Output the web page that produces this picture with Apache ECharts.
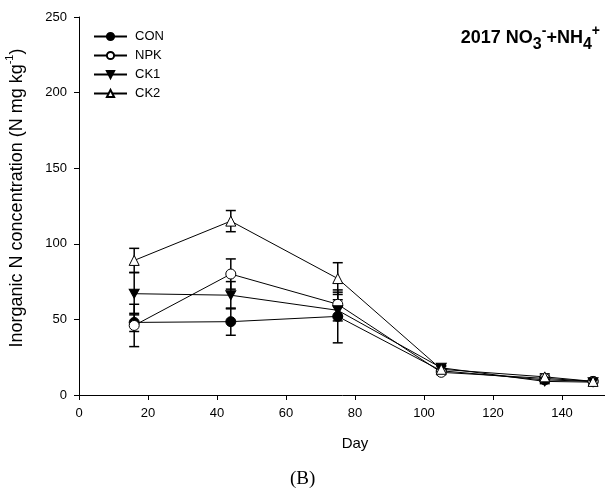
<!DOCTYPE html>
<html>
<head>
<meta charset="utf-8">
<script src="https://cdn.jsdelivr.net/npm/echarts@6/dist/echarts.min.js"></script>
<style>html,body{margin:0;padding:0;background:#fff;}#c{width:605px;height:493px;}</style>
</head>
<body>
<div id="c"></div>
<script>
var days = [16, 44, 75, 105, 135, 149];
var seriesNames = ['CON', 'NPK', 'CK1', 'CK2'];
var con = [48, 48.5, 52, 16, 10, 9];
var conErr = [6, 9, 17.5, 1.5, 1.5, 1];
var npk = [46, 80, 60, 15, 11, 9];
var npkErr = [14, 10, 8, 1.5, 2, 1];
var ck1 = [67, 66, 56, 18, 9, 8.5];
var ck1Err = [14, 9, 7, 1.5, 1.5, 1];
var ck2 = [89, 115, 77, 17, 12, 9];
var ck2Err = [8, 7, 10.5, 2, 2, 1];
var xTicks = [0, 20, 40, 60, 80, 100, 120, 140];
var yTicks = [0, 50, 100, 150, 200, 250];

var values = [con, npk, ck1, ck2];
var errs = [conErr, npkErr, ck1Err, ck2Err];
var symbols = ['circle', 'circle', 'path://M0,0 L10,0 L5,9 Z', 'triangle'];
var fills = ['#000', '#fff', '#000', '#fff'];

var chart = echarts.init(document.getElementById('c'));
var FONT = 'Liberation Sans, Arial, sans-serif';

var series = [];
values.forEach(function (vals, si) {
  var data = days.map(function (d, i) { return [d, vals[i] - errs[si][i], vals[i] + errs[si][i]]; });
  series.push({
    type: 'custom', name: seriesNames[si] + ' err', z: 1,
    renderItem: function (params, api) {
      var x = api.value(0);
      var lo = api.coord([x, api.value(1)]);
      var hi = api.coord([x, api.value(2)]);
      var hw = 5;
      var st = { stroke: '#000', lineWidth: 1.5 };
      return { type: 'group', children: [
        { type: 'line', shape: { x1: lo[0], y1: lo[1], x2: hi[0], y2: hi[1] }, style: st },
        { type: 'line', shape: { x1: lo[0] - hw, y1: lo[1], x2: lo[0] + hw, y2: lo[1] }, style: st },
        { type: 'line', shape: { x1: hi[0] - hw, y1: hi[1], x2: hi[0] + hw, y2: hi[1] }, style: st }
      ]};
    },
    encode: { x: 0, y: [1, 2] },
    data: data, silent: true
  });
});
values.forEach(function (vals, si) {
  series.push({
    type: 'line', name: seriesNames[si], z: 3,
    data: days.map(function (d, i) { return [d, vals[i]]; }),
    symbol: symbols[si], symbolSize: si === 2 ? [10, 9] : 10,
    showAllSymbol: true,
    lineStyle: { color: '#000', width: 1 },
    itemStyle: { color: fills[si], borderColor: '#000', borderWidth: 1 },
    animation: false
  });
});

var option = {
  animation: false,
  backgroundColor: '#fff',
  grid: { left: 79, top: 17, width: 552, height: 378, containLabel: false, outerBoundsMode: 'none' },
  legend: {
    data: seriesNames, orient: 'vertical', left: 88, top: 25,
    itemWidth: 33, itemHeight: 9, itemGap: 6,
    textStyle: { fontFamily: FONT, fontSize: 13, color: '#000', padding: [0, 0, 0, 3] }
  },
  xAxis: {
    type: 'value', min: 0, max: 160, interval: 20,
    name: 'Day', nameLocation: 'middle', nameGap: 41,
    nameTextStyle: { fontFamily: FONT, fontSize: 15, color: '#000' },
    axisLine: { lineStyle: { color: '#000', width: 1 } },
    axisTick: { inside: false, length: 5, lineStyle: { color: '#000' } },
    axisLabel: { fontFamily: FONT, fontSize: 13, color: '#000', margin: 12,
      formatter: function (v) { return xTicks.indexOf(v) >= 0 ? String(v) : ''; } },
    splitLine: { show: false }
  },
  yAxis: {
    type: 'value', min: 0, max: 250, interval: 50,
    name: 'Inorganic N concentration (N mg kg{sup|-1})', nameLocation: 'middle', nameGap: 49, nameRotate: 90,
    nameTextStyle: { fontFamily: FONT, fontSize: 18, color: '#000', padding: [0, 0, 0, 16],
      rich: { sup: { fontFamily: FONT, fontSize: 11, color: '#000', verticalAlign: 'top', lineHeight: 26 } } },
    axisLine: { show: true, lineStyle: { color: '#000', width: 1 } },
    axisTick: { show: true, inside: false, length: 5, lineStyle: { color: '#000' } },
    axisLabel: { fontFamily: FONT, fontSize: 13, color: '#000', margin: 12,
      formatter: function (v) { return yTicks.indexOf(v) >= 0 ? String(v) : ''; } },
    splitLine: { show: false }
  },
  graphic: [
    { type: 'text', right: 5, top: 24,
      style: { text: '2017 NO{sub|3}{sup|-}+NH{sub|4}{sup|+}', fontFamily: FONT, fontSize: 18, fontWeight: 'bold', fill: '#000',
        lineHeight: 29,
        rich: {
          sub: { fontFamily: FONT, fontSize: 16, fontWeight: 'bold', verticalAlign: 'bottom', lineHeight: 16 },
          sup: { fontFamily: FONT, fontSize: 14, fontWeight: 'bold', verticalAlign: 'top', lineHeight: 14 }
        } } },
    { type: 'text', left: 290, top: 470,
      style: { text: '(B)', fontFamily: 'Liberation Serif, Times New Roman, serif', fontSize: 19, fill: '#000' } }
  ],
  series: series
};
chart.setOption(option);
</script>
</body>
</html>
